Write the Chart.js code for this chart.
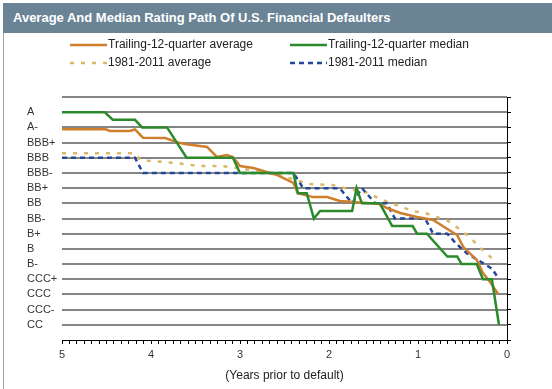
<!DOCTYPE html>
<html>
<head>
<meta charset="utf-8">
<script src="https://cdn.jsdelivr.net/npm/chart.js@4.4.1/dist/chart.umd.min.js"></script>
<style>
  body { margin: 0; background: #fff; }
  #wrap { position: relative; width: 552px; height: 389px; overflow: hidden; }
  #chart { position: absolute; left: 0; top: 0; }
  #edge { position: absolute; left: 3px; top: 3px; width: 1px; height: 386px; background: #a0a0a0; }
  #bar {
    position: absolute; left: 3px; top: 3px; width: 549px; height: 30px;
    background: #6a8496; color: #fff;
    font: bold 13px "Liberation Sans", Arial, sans-serif;
    line-height: 30px; padding-left: 10px; box-sizing: border-box;
  }
</style>
</head>
<body>
<div id="wrap">
  <canvas id="chart" width="552" height="389"></canvas>
  <div id="edge"></div>
  <div id="bar">Average And Median Rating Path Of U.S. Financial Defaulters</div>
</div>
<script>
// rating scale, index 1 = CC ... 15 = A (0 and 16 are the blank axis ends)
const ratingLabels = ["", "CC", "CCC-", "CCC", "CCC+", "B-", "B", "B+", "BB-", "BB", "BB+",
  "BBB-", "BBB", "BBB+", "A-", "A", ""];

// years prior to default / rating index
const trailingAvgYears = [5, 4.51, 4.46, 4.24, 4.18, 4.09, 3.84, 3.71, 3.62, 3.37, 3.26, 3.15, 3.08, 3.00,
  2.85, 2.70, 2.58, 2.40, 2.35, 2.18, 2.02, 1.88, 1.73, 1.43, 1.35, 1.20, 1.01, 0.83, 0.67, 0.56,
  0.49, 0.34, 0.27, 0.19, 0.10];
const trailingAvgValues = [13.87, 13.87, 13.76, 13.76, 13.86, 13.32, 13.30, 13.03, 12.90, 12.71, 12.05,
  12.18, 12.05, 11.45, 11.32, 11.06, 10.86, 10.34, 9.67, 9.41, 9.41, 9.15, 9.08, 8.95, 8.69, 8.36,
  8.10, 7.90, 7.31, 6.91, 6.12, 5.27, 4.41, 3.82, 3.03];

const trailingMedYears = [5, 4.52, 4.43, 4.18, 4.10, 3.82, 3.60, 3.08, 3.00, 2.40, 2.35, 2.25, 2.17,
  2.10, 1.74, 1.69, 1.63, 1.43, 1.29, 1.06, 1.01, 0.90, 0.67, 0.56, 0.51, 0.34, 0.27, 0.17, 0.09];
const trailingMedValues = [15, 15, 14.5, 14.5, 14, 14, 12, 12, 11, 11, 9.67, 9.67, 8, 8.5, 8.5, 10, 9,
  9, 7.5, 7.5, 7, 7, 5.5, 5.5, 5, 5, 4, 4, 1];

const histAvgYears = [5, 4.18, 4.12, 3.99, 3.71, 3.45, 3.19, 3.03, 2.89, 2.74, 2.58, 2.36, 2.24, 1.96,
  1.82, 1.56, 1.45, 1.31, 1.18, 1.06, 0.92, 0.79, 0.66, 0.55, 0.42, 0.31, 0.21, 0.11];
const histAvgValues = [12.29, 12.29, 11.85, 11.78, 11.65, 11.45, 11.45, 11.32, 11.19, 11.06, 10.86,
  10.53, 10.27, 10.20, 10.0, 9.68, 9.35, 9.02, 8.76, 8.49, 8.36, 8.10, 7.83, 7.37, 6.78, 6.12, 5.60, 5.07];

const histMedYears = [5, 4.18, 4.09, 2.40, 2.29, 1.88, 1.74, 1.63, 1.48, 1.35, 1.26, 0.92, 0.83, 0.67,
  0.58, 0.45, 0.28, 0.17, 0.10];
const histMedValues = [12, 12, 11, 11, 10, 10, 9, 10, 9, 9, 8, 8, 7, 7, 6.4, 5.7, 5.1, 4.7, 4.1];

const FONT = "'Liberation Sans', Arial, sans-serif";

// x axis runs in months so the minor ticks land on whole numbers
const toPoints = (years, values) => years.map((y, i) => ({ x: y * 12, y: values[i] }));

// legend is drawn in two fixed columns like the original
const legendPlugin = {
  id: "twoColLegend",
  afterDraw(chart) {
    const ctx = chart.ctx;
    const spots = [[70, 45], [290, 45], [70, 63], [290, 63]];
    chart.data.datasets.forEach((ds, i) => {
      const [x, y] = spots[i];
      ctx.save();
      ctx.strokeStyle = ds.borderColor;
      ctx.lineWidth = 2.5;
      ctx.setLineDash(ds.borderDash || []);
      ctx.beginPath();
      ctx.moveTo(x, y);
      ctx.lineTo(x + 37, y);
      ctx.stroke();
      ctx.setLineDash([]);
      ctx.fillStyle = "#222";
      ctx.font = "12px " + FONT;
      ctx.textBaseline = "middle";
      ctx.fillText(ds.label, x + 38, y);
      ctx.restore();
    });
  },
};

new Chart(document.getElementById("chart"), {
  type: "line",
  plugins: [legendPlugin],
  data: {
    datasets: [
      {
        label: "Trailing-12-quarter average",
        data: toPoints(trailingAvgYears, trailingAvgValues),
        borderColor: "#cf7f2c",
        borderWidth: 2.5,
        order: 1,
      },
      {
        label: "Trailing-12-quarter median",
        data: toPoints(trailingMedYears, trailingMedValues),
        borderColor: "#2b8a2b",
        borderWidth: 2.5,
        order: 0,
      },
      {
        label: "1981-2011 average",
        data: toPoints(histAvgYears, histAvgValues),
        borderColor: "#d9b868",
        borderWidth: 2.5,
        borderDash: [4, 7],
        order: 3,
      },
      {
        label: "1981-2011 median",
        data: toPoints(histMedYears, histMedValues),
        borderColor: "#23479a",
        borderWidth: 2.5,
        borderDash: [5, 4],
        order: 2,
      },
    ],
  },
  options: {
    responsive: false,
    devicePixelRatio: 1,
    animation: false,
    elements: { point: { radius: 0 }, line: { tension: 0, borderCapStyle: "butt" } },
    layout: { padding: { left: 27, right: 41, top: 97, bottom: 0 } },
    plugins: { legend: { display: false }, tooltip: { enabled: false }, title: { display: false } },
    scales: {
      x: {
        type: "linear",
        reverse: true,
        min: 0,
        max: 60,
        afterFit: (s) => { s.height = 49; },
        border: { color: "#000", width: 1 },
        grid: { drawOnChartArea: false, drawTicks: true, tickLength: 4, color: "#000" },
        ticks: {
          stepSize: 1,
          autoSkip: false,
          maxRotation: 0,
          padding: 4,
          color: "#333",
          font: { family: FONT, size: 11 },
          callback: (v) => (v % 12 === 0 ? String(v / 12) : ""),
        },
        title: {
          display: true,
          text: "(Years prior to default)",
          color: "#222",
          font: { family: FONT, size: 12 },
          padding: { top: 0, bottom: 6 },
        },
      },
      y: {
        position: "left",
        min: 0,
        max: 16,
        afterFit: (s) => { s.width = 35; },
        border: { display: false },
        grid: {
          drawTicks: false,
          lineWidth: 2,
          color: (c) => (c.tick && c.tick.value === 0 ? "rgba(0,0,0,0)" : "#858585"),
        },
        ticks: {
          stepSize: 1,
          autoSkip: false,
          crossAlign: "far",
          color: "#333",
          font: { family: FONT, size: 11 },
          callback: (v) => ratingLabels[v],
        },
      },
      y2: {
        position: "right",
        min: 0,
        max: 16,
        border: { color: "#000", width: 1 },
        grid: { drawOnChartArea: false, drawTicks: true, tickLength: 4, color: "#000" },
        ticks: { display: false, stepSize: 1 },
      },
    },
  },
});
</script>
</body>
</html>
